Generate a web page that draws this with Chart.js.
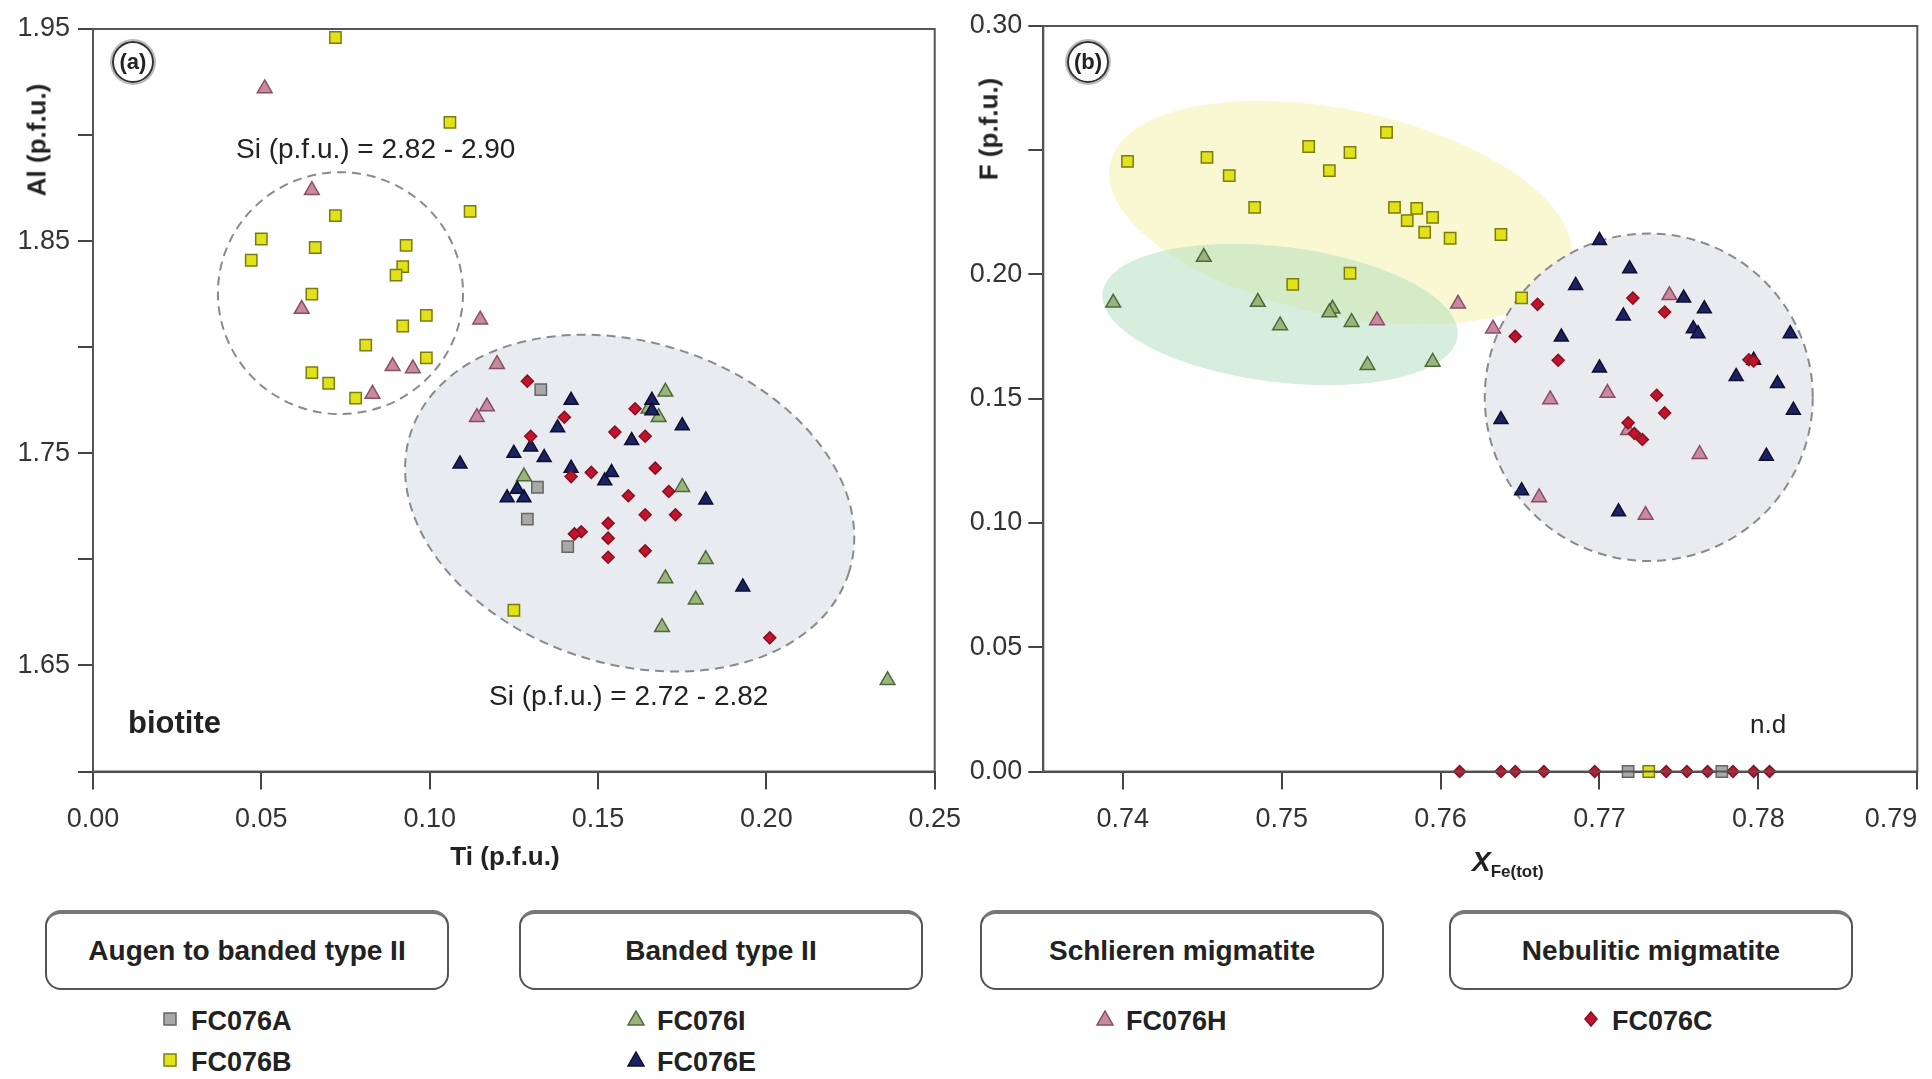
<!DOCTYPE html>
<html>
<head>
<meta charset="utf-8">
<script src="https://cdn.jsdelivr.net/npm/chart.js@4.4.1/dist/chart.umd.min.js"></script>
<style>
  body { margin: 0; width: 1932px; height: 1079px; overflow: hidden; position: relative; background: #fff;
         font-family: 'Liberation Sans', Arial, sans-serif; color: #222; }
  canvas { position: absolute; top: 0; }
  #chartA { left: 0; }
  #chartB { left: 955px; }
  .txt { position: absolute; white-space: nowrap; transform: translateY(-50%); }
  .vtitle { position: absolute; white-space: nowrap; font-weight: bold; font-size: 26px;
            transform: translate(-50%, -50%) rotate(-90deg); }
  .panel { position: absolute; width: 38px; height: 38px; border: 2px solid #333; border-radius: 50%;
           box-shadow: 0 0 0 2px #bbb; font-weight: bold; font-size: 22px; line-height: 38px; text-align: center; }
  .box { position: absolute; top: 910px; width: 400px; height: 74px; border: 2px solid #555; border-top: 4px solid #777;
         border-radius: 16px; font-weight: bold; font-size: 28px; line-height: 74px; text-align: center; }
  .item { position: absolute; font-weight: bold; font-size: 27px; transform: translateY(-50%); }
  .mk { position: absolute; transform: translate(-50%, -50%); }
</style>
</head>
<body>
<canvas id="chartA" width="975" height="880"></canvas>
<canvas id="chartB" width="977" height="880"></canvas>

<div class="panel" style="left:112px; top:41px;">(a)</div>
<div class="panel" style="left:1067px; top:41px;">(b)</div>
<div class="vtitle" style="left:37px; top:140px;">Al (p.f.u.)</div>
<div class="vtitle" style="left:989px; top:129px;">F (p.f.u.)</div>
<div class="txt" style="left:505px; top:856px; font-weight:bold; font-size:26px; transform:translate(-50%,-50%);">Ti (p.f.u.)</div>
<div class="txt" style="left:1472px; top:864px; font-weight:bold; font-size:28px;"><i>X</i><sub style="font-size:17px;">Fe(tot)</sub></div>
<div class="txt" style="left:236px; top:149px; font-size:28px;">Si (p.f.u.) = 2.82 - 2.90</div>
<div class="txt" style="left:489px; top:696px; font-size:28px;">Si (p.f.u.) = 2.72 - 2.82</div>
<div class="txt" style="left:128px; top:723px; font-size:31px; font-weight:bold;">biotite</div>
<div class="txt" style="left:1750px; top:724px; font-size:26px;">n.d</div>

<div class="box" style="left:45px;">Augen to banded type II</div>
<div class="box" style="left:519px;">Banded type II</div>
<div class="box" style="left:980px;">Schlieren migmatite</div>
<div class="box" style="left:1449px;">Nebulitic migmatite</div>
<div id="legend"></div>

<script>
// ---- panel (a): Ti vs Al (p.f.u.)
const tiTicks = [0, 0.05, 0.10, 0.15, 0.20, 0.25];
const alTicks = [1.60, 1.65, 1.70, 1.75, 1.80, 1.85, 1.90, 1.95];
const alLabelled = [1.65, 1.75, 1.85, 1.95];

const ti_FC076A = [0.133, 0.132, 0.129, 0.141];
const al_FC076A = [1.780, 1.734, 1.719, 1.706];

const ti_FC076B = [0.072, 0.106, 0.112, 0.072, 0.050, 0.047, 0.066, 0.093, 0.092, 0.090, 0.065, 0.099, 0.092, 0.081, 0.099, 0.065, 0.070, 0.078, 0.125];
const al_FC076B = [1.946, 1.906, 1.864, 1.862, 1.851, 1.841, 1.847, 1.848, 1.838, 1.834, 1.825, 1.815, 1.810, 1.801, 1.795, 1.788, 1.783, 1.776, 1.676];

const ti_FC076I = [0.170, 0.168, 0.165, 0.128, 0.175, 0.182, 0.170, 0.179, 0.169, 0.236];
const al_FC076I = [1.779, 1.767, 1.771, 1.739, 1.734, 1.700, 1.691, 1.681, 1.668, 1.643];

const ti_FC076E = [0.142, 0.166, 0.138, 0.175, 0.160, 0.125, 0.130, 0.134, 0.109, 0.142, 0.154, 0.152, 0.123, 0.128, 0.182, 0.193, 0.166, 0.126];
const al_FC076E = [1.775, 1.775, 1.762, 1.763, 1.756, 1.750, 1.753, 1.748, 1.745, 1.743, 1.741, 1.737, 1.729, 1.729, 1.728, 1.687, 1.770, 1.733];

const ti_FC076H = [0.051, 0.065, 0.062, 0.115, 0.089, 0.095, 0.083, 0.120, 0.117, 0.114];
const al_FC076H = [1.922, 1.874, 1.818, 1.813, 1.791, 1.790, 1.778, 1.792, 1.772, 1.767];

const ti_FC076C = [0.129, 0.140, 0.161, 0.155, 0.164, 0.130, 0.167, 0.148, 0.142, 0.159, 0.171, 0.164, 0.173, 0.153, 0.145, 0.143, 0.153, 0.164, 0.153, 0.201];
const al_FC076C = [1.784, 1.767, 1.771, 1.760, 1.758, 1.758, 1.743, 1.741, 1.739, 1.730, 1.732, 1.721, 1.721, 1.717, 1.713, 1.712, 1.710, 1.704, 1.701, 1.663];

// ---- panel (b): X Fe(tot) vs F (p.f.u.)
const xfeTicks = [0.735, 0.74, 0.75, 0.76, 0.77, 0.78, 0.79];
const fTicks = [0, 0.05, 0.10, 0.15, 0.20, 0.25, 0.30];
const fLabelled = [0, 0.05, 0.10, 0.15, 0.20, 0.30];

const xfe_FC076A = [0.7718, 0.7777];
const f_FC076A = [0, 0];

const xfe_FC076B = [0.7403, 0.7453, 0.7467, 0.7483, 0.7517, 0.7543, 0.7530, 0.7566, 0.7571, 0.7585, 0.7579, 0.7595, 0.7590, 0.7606, 0.7638, 0.7543, 0.7507, 0.7651, 0.7731];
const f_FC076B = [0.2455, 0.2471, 0.2398, 0.2270, 0.2515, 0.2491, 0.2418, 0.2572, 0.2270, 0.2266, 0.2217, 0.2230, 0.2170, 0.2146, 0.2161, 0.2005, 0.1960, 0.1906, 0];

const xfe_FC076I = [0.7451, 0.7394, 0.7485, 0.7532, 0.7530, 0.7499, 0.7544, 0.7554, 0.7595];
const f_FC076I = [0.2070, 0.1886, 0.1889, 0.1862, 0.1847, 0.1795, 0.1808, 0.1635, 0.1648];

const xfe_FC076E = [0.7700, 0.7719, 0.7685, 0.7753, 0.7766, 0.7715, 0.7759, 0.7762, 0.7820, 0.7676, 0.7700, 0.7797, 0.7786, 0.7812, 0.7822, 0.7638, 0.7805, 0.7651, 0.7712];
const f_FC076E = [0.2137, 0.2023, 0.1956, 0.1905, 0.1862, 0.1833, 0.1782, 0.1762, 0.1762, 0.1748, 0.1624, 0.1655, 0.1590, 0.1561, 0.1454, 0.1416, 0.1269, 0.1130, 0.1045];

const xfe_FC076H = [0.7560, 0.7611, 0.7633, 0.7744, 0.7669, 0.7705, 0.7718, 0.7763, 0.7662, 0.7729];
const f_FC076H = [0.1815, 0.1882, 0.1782, 0.1916, 0.1497, 0.1523, 0.1373, 0.1277, 0.1103, 0.1032];

const xfe_FC076C = [0.7661, 0.7647, 0.7721, 0.7741, 0.7674, 0.7736, 0.7741, 0.7718, 0.7722, 0.7727, 0.7794, 0.7797,
                    0.7612, 0.7638, 0.7647, 0.7665, 0.7697, 0.7742, 0.7755, 0.7768, 0.7784, 0.7797, 0.7807];
const f_FC076C = [0.1880, 0.1751, 0.1905, 0.1849, 0.1655, 0.1514, 0.1443, 0.1403, 0.1360, 0.1336, 0.1657, 0.1652,
                  0, 0, 0, 0, 0, 0, 0, 0, 0, 0, 0];

// shaded / dashed fields, in data units (rx, ry are semi-axes), rot in degrees
const fieldsA = [
  { x: 0.1594, y: 1.7265, rx: 0.0683, ry: 0.0759, rot: 17.5, fill: '#e8ebef', stroke: '#8a8a8a' },
  { x: 0.0735, y: 1.8255, rx: 0.0364, ry: 0.0570, rot: 0, fill: null, stroke: '#8a8a8a' }
];
const fieldsB = [
  { x: 0.7537, y: 0.2249, rx: 0.01483, ry: 0.0414, rot: 12, fill: 'rgba(248,245,192,0.7)', stroke: null },
  { x: 0.7499, y: 0.1839, rx: 0.01126, ry: 0.0273, rot: 7, fill: 'rgba(176,222,190,0.5)', stroke: null },
  { x: 0.7731, y: 0.1506, rx: 0.01032, ry: 0.0659, rot: 0, fill: '#e9ebef', stroke: '#8a8a8a' }
];

const samples = {
  FC076A: { style: 'rect', r: 8, bg: '#a9a9a9', bd: '#666', order: 5 },
  FC076B: { style: 'rect', r: 8, bg: '#e2e21a', bd: '#7c7c0c', order: 6 },
  FC076I: { style: 'triangle', r: 8.5, bg: '#9cb47b', bd: '#4c6a3c', order: 3 },
  FC076E: { style: 'triangle', r: 8, bg: '#1c2260', bd: '#0c0f30', order: 2 },
  FC076H: { style: 'triangle', r: 8.5, bg: '#c98aa0', bd: '#8a4d66', order: 4 },
  FC076C: { style: 'rectRot', r: 6, bg: '#c4142c', bd: '#861022', order: 1 }
};

Chart.defaults.font.family = "'Liberation Sans', Arial, sans-serif";
Chart.defaults.color = '#333';

function zip(xs, ys) {
  return xs.map((v, i) => ({ x: v, y: ys[i] }));
}

function makeSet(name, xs, ys) {
  const s = samples[name];
  return {
    label: name,
    data: zip(xs, ys),
    pointStyle: s.style,
    pointRadius: s.r,
    backgroundColor: s.bg,
    borderColor: s.bd,
    borderWidth: 1.5,
    order: s.order,
    clip: false
  };
}

function fieldsPlugin(list) {
  return {
    id: 'fields',
    beforeDatasetsDraw(chart) {
      const { ctx, scales: { x, y } } = chart;
      list.forEach(f => {
        const cx = x.getPixelForValue(f.x), cy = y.getPixelForValue(f.y);
        const rx = Math.abs(x.getPixelForValue(f.x + f.rx) - cx);
        const ry = Math.abs(y.getPixelForValue(f.y + f.ry) - cy);
        ctx.save();
        ctx.beginPath();
        ctx.ellipse(cx, cy, rx, ry, f.rot * Math.PI / 180, 0, 2 * Math.PI);
        if (f.fill) { ctx.fillStyle = f.fill; ctx.fill(); }
        if (f.stroke) {
          ctx.setLineDash([9, 6]);
          ctx.lineWidth = 2;
          ctx.strokeStyle = f.stroke;
          ctx.stroke();
        }
        ctx.restore();
      });
    }
  };
}

const frame = {
  id: 'frame',
  afterDraw(chart) {
    const { ctx, chartArea: a } = chart;
    ctx.save();
    ctx.strokeStyle = '#555';
    ctx.lineWidth = 2;
    ctx.strokeRect(a.left, a.top, a.right - a.left, a.bottom - a.top);
    ctx.restore();
  }
};

function hasValue(list, v) {
  return list.some(l => Math.abs(l - v) < 1e-6);
}

const axisGrid = (len) => ({ display: true, drawOnChartArea: false, drawTicks: true, tickLength: len, color: '#444', lineWidth: 2 });

new Chart(document.getElementById('chartA'), {
  type: 'scatter',
  data: {
    datasets: [
      makeSet('FC076A', ti_FC076A, al_FC076A),
      makeSet('FC076B', ti_FC076B, al_FC076B),
      makeSet('FC076I', ti_FC076I, al_FC076I),
      makeSet('FC076E', ti_FC076E, al_FC076E),
      makeSet('FC076H', ti_FC076H, al_FC076H),
      makeSet('FC076C', ti_FC076C, al_FC076C)
    ]
  },
  options: {
    responsive: false,
    animation: false,
    events: [],
    devicePixelRatio: 1,
    layout: { padding: { top: 29, right: 40, left: 0, bottom: 0 } },
    plugins: { legend: { display: false }, tooltip: { enabled: false } },
    scales: {
      x: {
        type: 'linear', min: 0, max: 0.25,
        afterBuildTicks: s => { s.ticks = tiTicks.map(v => ({ value: v })); },
        afterFit: s => { s.height = 108.5; },
        ticks: { padding: 14, font: { size: 27 }, maxRotation: 0, callback: v => v.toFixed(2) },
        grid: axisGrid(18),
        border: { display: true, color: '#444', width: 2 }
      },
      y: {
        type: 'linear', min: 1.60, max: 1.95,
        afterBuildTicks: s => { s.ticks = alTicks.map(v => ({ value: v })); },
        afterFit: s => { s.width = 93; },
        ticks: { padding: 8, font: { size: 27 }, callback: v => hasValue(alLabelled, v) ? v.toFixed(2) : '' },
        grid: axisGrid(15),
        border: { display: true, color: '#444', width: 2 }
      }
    }
  },
  plugins: [fieldsPlugin(fieldsA), frame]
});

new Chart(document.getElementById('chartB'), {
  type: 'scatter',
  data: {
    datasets: [
      makeSet('FC076A', xfe_FC076A, f_FC076A),
      makeSet('FC076B', xfe_FC076B, f_FC076B),
      makeSet('FC076I', xfe_FC076I, f_FC076I),
      makeSet('FC076E', xfe_FC076E, f_FC076E),
      makeSet('FC076H', xfe_FC076H, f_FC076H),
      makeSet('FC076C', xfe_FC076C, f_FC076C)
    ]
  },
  options: {
    responsive: false,
    animation: false,
    events: [],
    devicePixelRatio: 1,
    layout: { padding: { top: 26, right: 14.7, left: 0, bottom: 0 } },
    plugins: { legend: { display: false }, tooltip: { enabled: false } },
    scales: {
      x: {
        type: 'linear', min: 0.735, max: 0.79,
        afterBuildTicks: s => { s.ticks = xfeTicks.map(v => ({ value: v })); },
        afterFit: s => { s.height = 108.5; },
        ticks: { padding: 14, font: { size: 27 }, maxRotation: 0, align: 'inner',
                 callback: (v, i) => i === 0 ? '' : v.toFixed(2) },
        grid: Object.assign(axisGrid(18), { tickColor: c => c.index === 0 ? 'rgba(0,0,0,0)' : '#444' }),
        border: { display: true, color: '#444', width: 2 }
      },
      y: {
        type: 'linear', min: 0, max: 0.30,
        afterBuildTicks: s => { s.ticks = fTicks.map(v => ({ value: v })); },
        afterFit: s => { s.width = 88.3; },
        ticks: { padding: 6, font: { size: 27 }, callback: v => hasValue(fLabelled, v) ? v.toFixed(2) : '' },
        grid: axisGrid(15),
        border: { display: true, color: '#444', width: 2 }
      }
    }
  },
  plugins: [fieldsPlugin(fieldsB), frame]
});

// legend under the group boxes
const legendItems = [
  { name: 'FC076A', x: 170, y: 1021 },
  { name: 'FC076B', x: 170, y: 1062 },
  { name: 'FC076I', x: 636, y: 1021 },
  { name: 'FC076E', x: 636, y: 1062 },
  { name: 'FC076H', x: 1105, y: 1021 },
  { name: 'FC076C', x: 1591, y: 1021 }
];

function markerSvg(s) {
  let shape;
  if (s.style === 'rect') shape = '<rect x="4" y="4" width="12" height="12"/>';
  else if (s.style === 'triangle') shape = '<polygon points="10,2 18,16 2,16"/>';
  else shape = '<polygon points="10,3 16,10 10,17 4,10"/>';
  return `<svg width="20" height="20"><g fill="${s.bg}" stroke="${s.bd}" stroke-width="1.5">${shape}</g></svg>`;
}

const legend = document.getElementById('legend');
legendItems.forEach(it => {
  const s = samples[it.name];
  const mk = document.createElement('div');
  mk.className = 'mk';
  mk.style.left = it.x + 'px';
  mk.style.top = it.y + 'px';
  mk.innerHTML = markerSvg(s);
  legend.appendChild(mk);
  const tx = document.createElement('div');
  tx.className = 'item';
  tx.style.left = (it.x + 21) + 'px';
  tx.style.top = it.y + 'px';
  tx.innerText = it.name;
  legend.appendChild(tx);
});
</script>
</body>
</html>
